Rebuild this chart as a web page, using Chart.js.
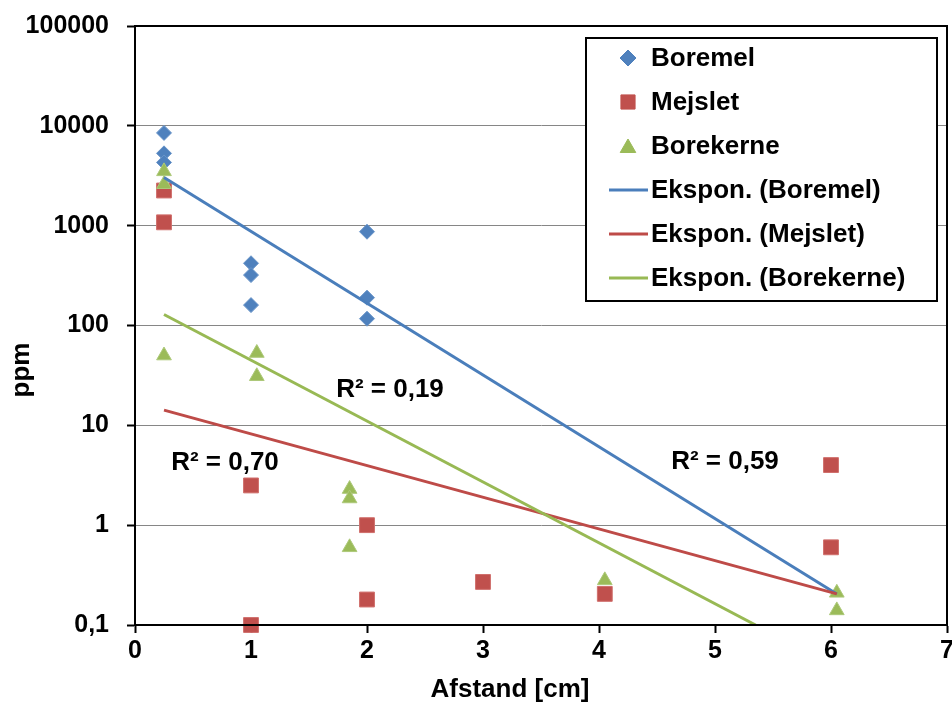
<!DOCTYPE html>
<html>
<head>
<meta charset="utf-8">
<script src="https://cdn.jsdelivr.net/npm/chart.js@4/dist/chart.umd.min.js"></script>
<style>
  html, body { margin: 0; padding: 0; background: #fff; }
  #wrap { width: 952px; height: 709px; }
</style>
</head>
<body>
<div id="wrap"><canvas id="myChart" width="952" height="709"></canvas></div>
<script>
const boremelX = [0.25, 0.25, 0.25, 1, 1, 1, 2, 2, 2];
const boremelY = [8500, 5300, 4300, 420, 320, 160, 870, 190, 117];
const mejsletX = [0.25, 0.25, 1, 1, 2, 2, 3, 4.05, 6, 6];
const mejsletY = [2250, 1080, 2.5, 0.1, 1.0, 0.18, 0.27, 0.205, 4.0, 0.6];
const borekerneX = [0.25, 0.25, 0.25, 1.05, 1.05, 1.85, 1.85, 1.85, 4.05, 6.05, 6.05];
const borekerneY = [3500, 2600, 50, 53, 31, 2.3, 1.85, 0.6, 0.28, 0.21, 0.14];

// trend line end points (exponential fits, straight on log axis)
const boremelFitX = [0.25, 6.05];
const boremelFitY = [3040, 0.204];
const mejsletFitX = [0.25, 6.05];
const mejsletFitY = [14.2, 0.205];
const borekerneFitX = [0.25, 5.35];
const borekerneFitY = [129, 0.1];

const yTicks = [0.1, 1, 10, 100, 1000, 10000, 100000];
const xTicks = [0, 1, 2, 3, 4, 5, 6, 7];
const r2Labels = ['R² = 0,19', 'R² = 0,70', 'R² = 0,59'];
const legendNames = ['Boremel', 'Mejslet', 'Borekerne', 'Ekspon. (Boremel)', 'Ekspon. (Mejslet)', 'Ekspon. (Borekerne)'];
const xTitle = 'Afstand [cm]';
const yTitle = 'ppm';

const BLUE = '#4F81BD';
const RED = '#C0504D';
const GREEN = '#9BBB59';
const FONT = "'Liberation Sans', Arial, sans-serif";

function pts(xs, ys) {
  return xs.map((x, i) => ({ x: x, y: ys[i] }));
}

// axis titles, R² labels, plot border and legend box
const extras = {
  id: 'extras',
  afterDatasetsDraw(chart) {
    const ctx = chart.ctx;
    const a = chart.chartArea;
    ctx.save();
    ctx.strokeStyle = '#000';
    ctx.lineWidth = 2;
    ctx.strokeRect(a.left, a.top, a.right - a.left, a.bottom - a.top);

    ctx.fillStyle = '#000';
    ctx.font = 'bold 26px ' + FONT;
    ctx.textAlign = 'center';
    ctx.textBaseline = 'middle';
    ctx.fillText(r2Labels[0], 390, 390);
    ctx.fillText(r2Labels[1], 225, 463);
    ctx.fillText(r2Labels[2], 725, 462);

    ctx.fillText(xTitle, 510, 690);
    ctx.save();
    ctx.translate(22, 370);
    ctx.rotate(-Math.PI / 2);
    ctx.fillText(yTitle, 0, 0);
    ctx.restore();

    // legend
    const bx = 586, by = 38, bw = 351, bh = 263;
    ctx.fillStyle = '#fff';
    ctx.fillRect(bx, by, bw, bh);
    ctx.strokeRect(bx, by, bw, bh);
    const colors = [BLUE, RED, GREEN, '#4A7EBB', '#BE4B48', '#98B954'];
    const styles = ['rectRot', 'rect', 'triangle'];
    const radii = [8, 10, 9];
    ctx.textAlign = 'left';
    for (let i = 0; i < legendNames.length; i++) {
      const cy = 58 + i * 44;
      if (i < 3) {
        ctx.fillStyle = colors[i];
        ctx.strokeStyle = colors[i];
        ctx.lineWidth = 1;
        Chart.helpers.drawPoint(ctx, { pointStyle: styles[i], radius: radii[i], borderWidth: 1 }, 628, cy + (i === 2 ? 2 : 0));
      } else {
        ctx.strokeStyle = colors[i];
        ctx.lineWidth = 3;
        ctx.beginPath();
        ctx.moveTo(609, cy);
        ctx.lineTo(648, cy);
        ctx.stroke();
      }
      ctx.fillStyle = '#000';
      ctx.fillText(legendNames[i], 651, cy + 1);
    }
    ctx.restore();
  }
};

const ctx = document.getElementById('myChart').getContext('2d');
let myChart = new Chart(ctx, {
  type: 'scatter',
  data: {
    datasets: [
      { label: legendNames[0], data: pts(boremelX, boremelY), pointStyle: 'rectRot', pointRadius: 7.5,
        backgroundColor: BLUE, borderColor: '#6A95C9', borderWidth: 1, clip: false, order: 5 },
      { label: legendNames[1], data: pts(mejsletX, mejsletY), pointStyle: 'rect', pointRadius: 10.5,
        backgroundColor: RED, borderColor: '#D06F6C', borderWidth: 1, clip: false, order: 4 },
      { label: legendNames[2], data: pts(borekerneX, borekerneY), pointStyle: 'triangle', pointRadius: 8.5,
        backgroundColor: GREEN, borderColor: '#ADC97A', borderWidth: 1, clip: false, order: 3 },
      { label: legendNames[3], data: pts(boremelFitX, boremelFitY), showLine: true, pointRadius: 0,
        borderColor: '#4A7EBB', borderWidth: 3, order: 2 },
      { label: legendNames[4], data: pts(mejsletFitX, mejsletFitY), showLine: true, pointRadius: 0,
        borderColor: '#BE4B48', borderWidth: 3, order: 1 },
      { label: legendNames[5], data: pts(borekerneFitX, borekerneFitY), showLine: true, pointRadius: 0,
        borderColor: '#98B954', borderWidth: 3, order: 0 }
    ]
  },
  options: {
    responsive: false,
    animation: false,
    devicePixelRatio: 1,
    layout: { autoPadding: false, padding: { top: 26, right: 5, left: 0, bottom: 0 } },
    plugins: {
      legend: { display: false },
      tooltip: { enabled: false }
    },
    scales: {
      x: {
        type: 'linear',
        min: 0,
        max: 7,
        afterBuildTicks: (s) => { s.ticks = xTicks.map(v => ({ value: v })); },
        afterFit: (s) => { s.height = 84; s.paddingRight = 0; s.paddingLeft = 0; },
        grid: { drawOnChartArea: false, tickLength: 8, color: '#000', tickWidth: 2 },
        border: { color: '#000', width: 2 },
        ticks: { color: '#000', padding: 3, font: { family: FONT, size: 25, weight: 'bold' } }
      },
      y: {
        type: 'logarithmic',
        min: 0.1,
        max: 100000,
        afterBuildTicks: (s) => { s.ticks = yTicks.map(v => ({ value: v })); },
        afterFit: (s) => { s.width = 135; s.paddingTop = 0; s.paddingBottom = 0; },
        grid: { color: '#868686', lineWidth: 1, tickLength: 8, tickColor: '#000', tickWidth: 2 },
        border: { color: '#000', width: 2 },
        ticks: {
          color: '#000',
          padding: 18,
          font: { family: FONT, size: 25, weight: 'bold' },
          callback: (v) => String(v).replace('.', ',')
        }
      }
    }
  },
  plugins: [extras]
});
</script>
</body>
</html>
